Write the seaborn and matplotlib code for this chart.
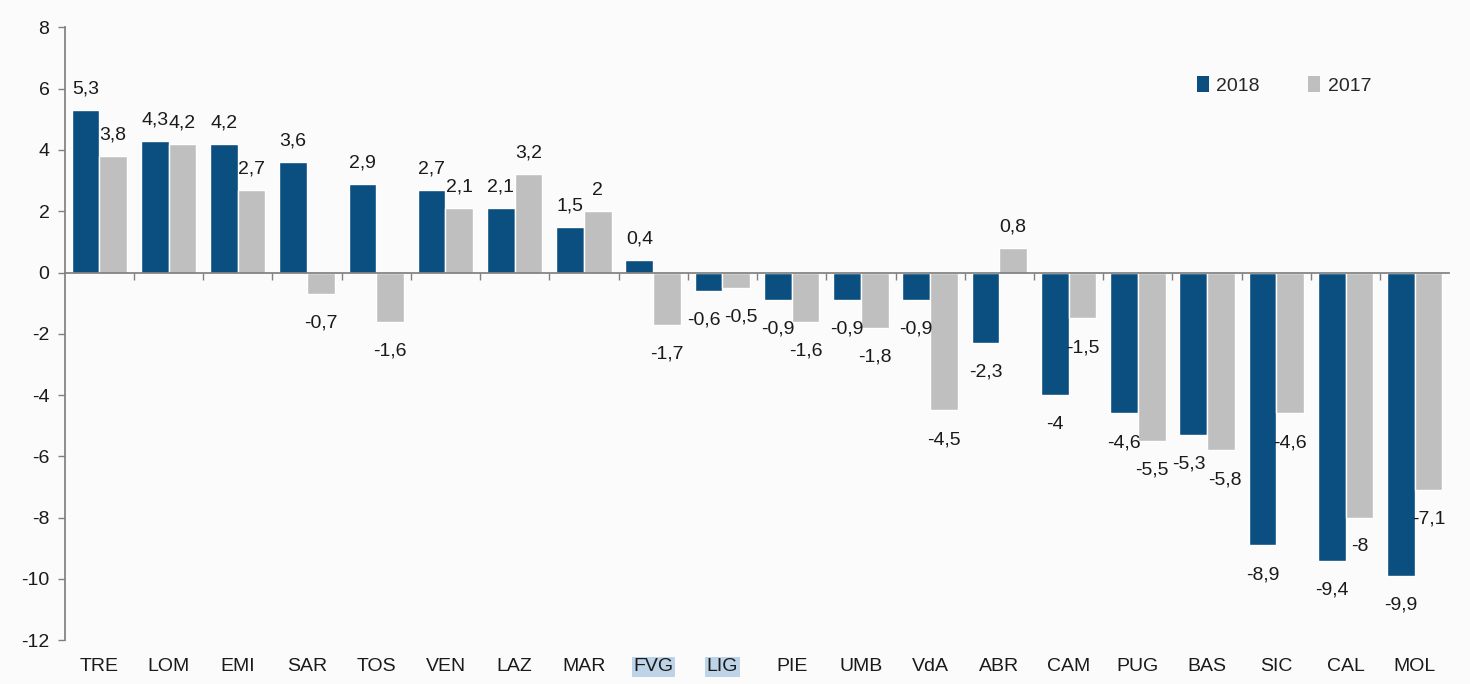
import matplotlib
matplotlib.use("Agg")
import matplotlib.pyplot as plt
import seaborn as sns
import pandas as pd
from matplotlib.patches import Patch

regions = ["TRE", "LOM", "EMI", "SAR", "TOS", "VEN", "LAZ", "MAR", "FVG", "LIG",
           "PIE", "UMB", "VdA", "ABR", "CAM", "PUG", "BAS", "SIC", "CAL", "MOL"]
v2018 = [5.3, 4.3, 4.2, 3.6, 2.9, 2.7, 2.1, 1.5, 0.4, -0.6,
         -0.9, -0.9, -0.9, -2.3, -4, -4.6, -5.3, -8.9, -9.4, -9.9]
v2017 = [3.8, 4.2, 2.7, -0.7, -1.6, 2.1, 3.2, 2, -1.7, -0.5,
         -1.6, -1.8, -4.5, 0.8, -1.5, -5.5, -5.8, -4.6, -8, -7.1]
series = ["2018", "2017"]
highlighted = ["FVG", "LIG"]
yticks = [-12, -10, -8, -6, -4, -2, 0, 2, 4, 6, 8]

sns.set_theme(style="white")
plt.rcParams["font.family"] = ["Liberation Sans", "DejaVu Sans"]

df = pd.DataFrame({
    "region": regions * 2,
    "value": v2018 + v2017,
    "year": [series[0]] * len(regions) + [series[1]] * len(regions),
})

colors = {"2018": "#0B4E80", "2017": "#BFBFBF"}
FS = 14

fig = plt.figure(figsize=(14.7, 6.84), dpi=100, facecolor="#FBFBFB")
ax = fig.add_axes([0.044, 0.064, 0.942, 0.896])
ax.set_facecolor("#FBFBFB")

sns.barplot(data=df, x="region", y="value", hue="year", hue_order=series,
            palette=colors, width=0.8, saturation=1, ax=ax, legend=False)

def fmt(v):
    s = f"{v:g}"
    return s.replace(".", ",")

label_sets = []
for cont, vals in zip(ax.containers, [v2018, v2017]):
    pos = [fmt(v) if v >= 0 else "" for v in vals]
    neg = [fmt(v) if v < 0 else "" for v in vals]
    a = ax.bar_label(cont, labels=pos, padding=9, fontsize=FS, color="#1a1a1a")
    b = ax.bar_label(cont, labels=neg, padding=15, fontsize=FS, color="#1a1a1a")
    label_sets.append([pa if pa.get_text() else nb for pa, nb in zip(a, b)])

ax.set_xlim(-0.5, len(regions) - 0.5)
ax.set_ylim(-12, 8)
ax.set_yticks(yticks)
ax.set_yticklabels([str(t) for t in yticks], fontsize=FS, color="#1a1a1a")
ax.tick_params(axis="y", length=5, width=1, color="#808080", left=True, pad=6)

for s in ["top", "right"]:
    ax.spines[s].set_visible(False)
ax.spines["left"].set_color("#808080")
ax.spines["bottom"].set_position(("data", 0))
ax.spines["bottom"].set_color("#808080")
ax.set_xticks([i + 0.5 for i in range(len(regions) - 1)])
ax.set_xticklabels([])
ax.tick_params(axis="x", length=5, width=1, color="#808080", bottom=True, direction="out")
ax.set_xlabel("")
ax.set_ylabel("")

sec = ax.secondary_xaxis(0)
sec.set_xticks(range(len(regions)))
sec.set_xticklabels(regions, fontsize=FS, color="#1a1a1a")
sec.tick_params(length=0, pad=13)
sec.spines["bottom"].set_visible(False)
for lbl in sec.get_xticklabels():
    if lbl.get_text() in highlighted:
        lbl.set_bbox(dict(facecolor="#BCD3E8", edgecolor="none", pad=1))

handles = [Patch(facecolor=colors[s], edgecolor="none", label=s) for s in series]
ax.legend(handles=handles, loc="center left", bbox_to_anchor=(0.805, 0.905),
          ncol=2, frameon=False, fontsize=FS, handlelength=0.6, handleheight=0.9,
          handletextpad=0.4, columnspacing=2.5)

# nudge apart label pairs within a category that collide
fig.canvas.draw()
r = fig.canvas.get_renderer()
pt_per_px = 72 / fig.dpi
for left, right in zip(*label_sets):
    b1 = left.get_window_extent(r)
    b2 = right.get_window_extent(r)
    if b1.overlaps(b2):
        overlap = b1.x1 - b2.x0 + 3
        dx = overlap / 2 * pt_per_px
        x1, y1 = left.xyann
        x2, y2 = right.xyann
        left.xyann = (x1 - dx, y1)
        right.xyann = (x2 + dx, y2)

fig.savefig("out.png", dpi=100, facecolor=fig.get_facecolor())
